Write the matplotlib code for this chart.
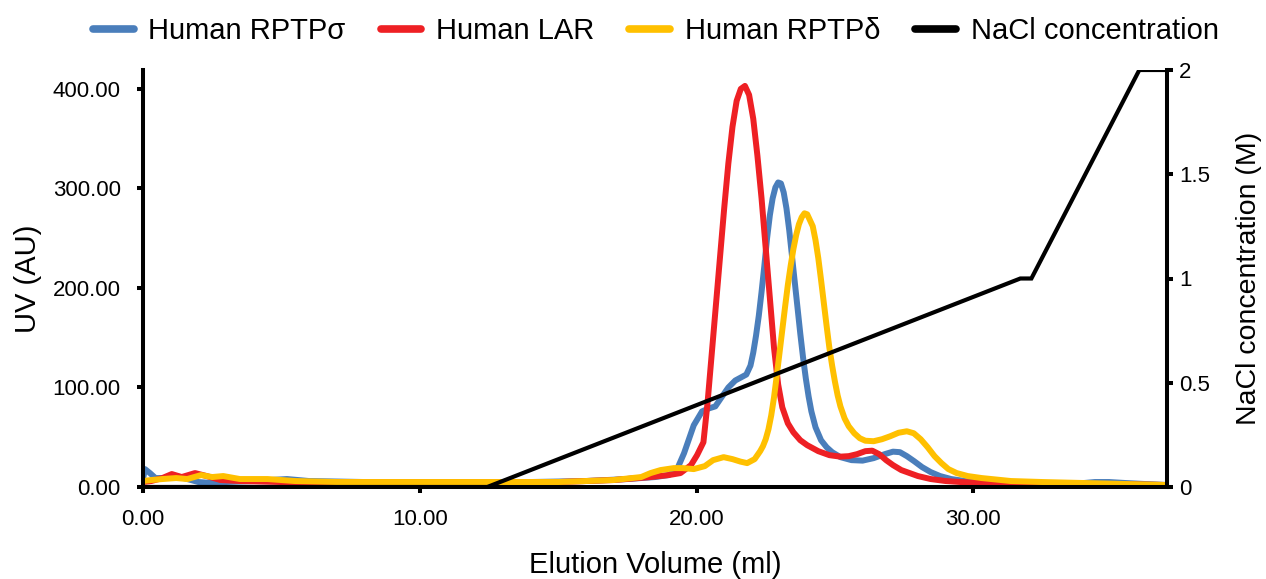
import matplotlib
matplotlib.use("Agg")
import matplotlib.pyplot as plt

plt.rcParams['font.family'] = ['Liberation Sans', 'DejaVu Sans']

# ---- data ----
sigma_x = [0.0, 0.07, 0.25, 0.45, 0.8, 1.2, 1.6, 2.0, 2.5, 3.0, 4.0, 5.2, 6.0, 8.0, 10.0, 12.0, 14.0,
           16.0, 17.5, 18.5, 19.0, 19.3, 19.55, 19.9, 20.2, 20.45, 20.68, 20.9, 21.15, 21.4, 21.6,
           21.8, 21.95, 22.05, 22.15, 22.25, 22.35, 22.45, 22.55, 22.65, 22.75, 22.85, 22.95,
           23.05, 23.15, 23.25, 23.35, 23.45, 23.55, 23.65, 23.75, 23.85, 23.95, 24.05, 24.15,
           24.3, 24.5, 24.7, 24.9, 25.2, 25.6, 26.0, 26.4, 26.8, 27.1, 27.35, 27.6, 27.86, 28.15,
           28.46, 28.8, 29.2, 29.7, 30.3, 31.0, 32.0, 33.0, 33.8, 34.4, 34.9, 35.5, 36.2, 37.0]
sigma_y = [8, 18, 14, 9, 9, 11, 8, 5, 4, 5, 6, 8, 6, 5, 5, 5, 5,
           6, 8, 10, 12, 18, 34, 62, 76, 79, 81, 90, 100, 107, 110,
           113, 122, 135, 152, 172, 196, 222, 250, 273, 290, 301, 306,
           305, 296, 280, 258, 232, 206, 180, 154, 130, 109, 91, 76,
           60, 47, 40, 35, 30, 27, 26.5, 29, 33, 35.5, 35, 31, 26, 20,
           15, 11, 8, 6, 5, 4, 3.5, 3, 3.5, 5, 5, 4, 3, 2]

lar_x = [0.0, 0.3, 0.7, 1.04, 1.4, 1.88, 2.3, 2.8, 3.5, 5.0, 8.0, 12.0, 15.0, 17.0, 18.34, 19.0,
         19.42, 19.8, 20.02, 20.25, 20.4, 20.6, 20.8, 21.0, 21.15, 21.3, 21.45, 21.6, 21.75,
         21.9, 22.05, 22.2, 22.35, 22.5, 22.65, 22.8, 22.95, 23.1, 23.3, 23.5, 23.75, 24.0,
         24.4, 24.8, 25.2, 25.5, 25.8, 26.1, 26.35, 26.6, 26.85, 27.1, 27.4, 27.7, 28.0, 28.46,
         29.0, 29.55, 30.5, 31.36, 33.0, 35.0, 37.0]
lar_y = [5, 6, 9, 13, 10, 14, 11, 7, 6, 5, 5, 5, 5, 7, 10, 12,
         14, 22, 32, 45, 85, 150, 215, 280, 325, 362, 388, 400, 403,
         394, 370, 333, 290, 240, 190, 140, 103, 80, 64, 55, 47, 42,
         36, 32, 30.5, 31, 33, 36, 36.5, 33, 27, 22, 17, 14, 11, 8,
         6, 5, 4, 4, 3, 3, 2]

delta_x = [0.0, 0.3, 0.7, 1.2, 1.6, 2.1, 2.5, 2.9, 3.5, 4.5, 5.5, 7.0, 10.0, 13.0, 15.0, 17.0,
           18.0, 18.34, 18.7, 19.18, 19.5, 19.9, 20.3, 20.6, 20.98, 21.3, 21.59, 21.83, 22.1,
           22.3, 22.4, 22.5, 22.6, 22.7, 22.8, 22.9, 23.0, 23.1, 23.2, 23.3, 23.4, 23.5, 23.6,
           23.7, 23.8, 23.9, 24.0, 24.1, 24.2, 24.3, 24.4, 24.5, 24.6, 24.7, 24.8, 24.9, 25.0,
           25.1, 25.2, 25.35, 25.5, 25.7, 25.9, 26.1, 26.4, 26.7, 27.0, 27.3, 27.6, 27.85, 28.1,
           28.35, 28.6, 28.85, 29.1, 29.4, 29.8, 30.3, 31.36, 32.5, 34.0, 35.5, 37.0]
delta_y = [6, 7, 8, 9, 8, 12, 10, 11, 8, 8, 6, 5, 5, 5, 5, 7,
           10, 14, 17, 19, 19, 18, 21, 27, 30, 28, 25.5, 24, 28,
           36, 41, 48, 58, 72, 90, 112, 135, 158, 181, 203, 222, 239, 253,
           264, 271, 275, 274, 268, 262, 248, 230, 208, 185, 162, 140, 122, 106,
           92, 81, 69, 61, 54, 49, 46.5, 46, 48, 51, 54.5, 56, 54, 48,
           40, 31, 24, 18, 14, 11, 9, 6, 5, 4, 3, 2]

nacl_x = [0.0, 12.44, 31.7, 32.1, 36.0, 37.0]
nacl_y = [0.0, 0.0, 1.0, 1.0, 2.0, 2.0]

labels = ['Human RPTP\u03c3', 'Human LAR', 'Human RPTP\u03b4', 'NaCl concentration']
colors = ['#4A7EBB', '#EE2024', '#FFC000', '#000000']

left_ticks = [0, 100, 200, 300, 400]
right_ticks = [0, 0.5, 1, 1.5, 2]
right_tick_labels = ['0', '0.5', '1', '1.5', '2']
x_ticks = [0, 10, 20, 30]

# ---- figure ----
fig = plt.figure(figsize=(12.66, 5.79), dpi=100)
ax = fig.add_axes([143/1266, 1-487/579, (1167-143)/1266, (487-70)/579])
ax2 = ax.twinx()

lw = 4.3
kw = dict(lw=lw, solid_joinstyle='round', solid_capstyle='round')
h1, = ax.plot(sigma_x, sigma_y, color=colors[0], **kw)
h2, = ax.plot(lar_x, lar_y, color=colors[1], **kw)
h3, = ax.plot(delta_x, delta_y, color=colors[2], **kw)
h4, = ax2.plot(nacl_x, nacl_y, color=colors[3], lw=3.0, solid_joinstyle='miter')

ax.set_xlim(0, 37)
ax.set_ylim(0, 419)
ax2.set_ylim(0, 2)

ax.set_xticks(x_ticks)
ax.set_xticklabels(['%.2f' % v for v in x_ticks])
ax.set_yticks(left_ticks)
ax.set_yticklabels(['%.2f' % v for v in left_ticks])
ax2.set_yticks(right_ticks)
ax2.set_yticklabels(right_tick_labels)

for a in (ax, ax2):
    a.spines['top'].set_visible(False)
    for s in ('left', 'right', 'bottom'):
        a.spines[s].set_linewidth(2.9)
ax.spines['right'].set_visible(False)
ax2.spines['left'].set_visible(False)
ax2.spines['bottom'].set_visible(False)

ax.tick_params(axis='x', direction='out', length=4.5, width=2.9, labelsize=16, pad=11)
ax.tick_params(axis='y', direction='out', length=4.5, width=2.9, labelsize=16, pad=11.5)
ax2.tick_params(axis='y', direction='out', length=4.5, width=2.9, labelsize=16, pad=4)

ax.set_xlabel('Elution Volume (ml)', fontsize=21)
ax.xaxis.set_label_coords(0.5, (487-551)/417)
ax.set_ylabel('UV (AU)', fontsize=21)
ax.yaxis.set_label_coords((42-143)/1024, 0.5)
ax2.set_ylabel('NaCl concentration (M)', fontsize=20.5, rotation=90)
ax2.yaxis.set_label_coords((1236-143)/1024, 0.5)

leg = fig.legend([h1, h2, h3, h4], labels, loc='center', bbox_to_anchor=(0.518, 1-31/579),
                 ncol=4, frameon=False, fontsize=21, handlelength=1.4, columnspacing=1.2,
                 handletextpad=0.5)
for ln in leg.get_lines():
    ln.set_linewidth(5.5)
    ln.set_solid_capstyle('round')

fig.savefig('out.png', dpi=100)
